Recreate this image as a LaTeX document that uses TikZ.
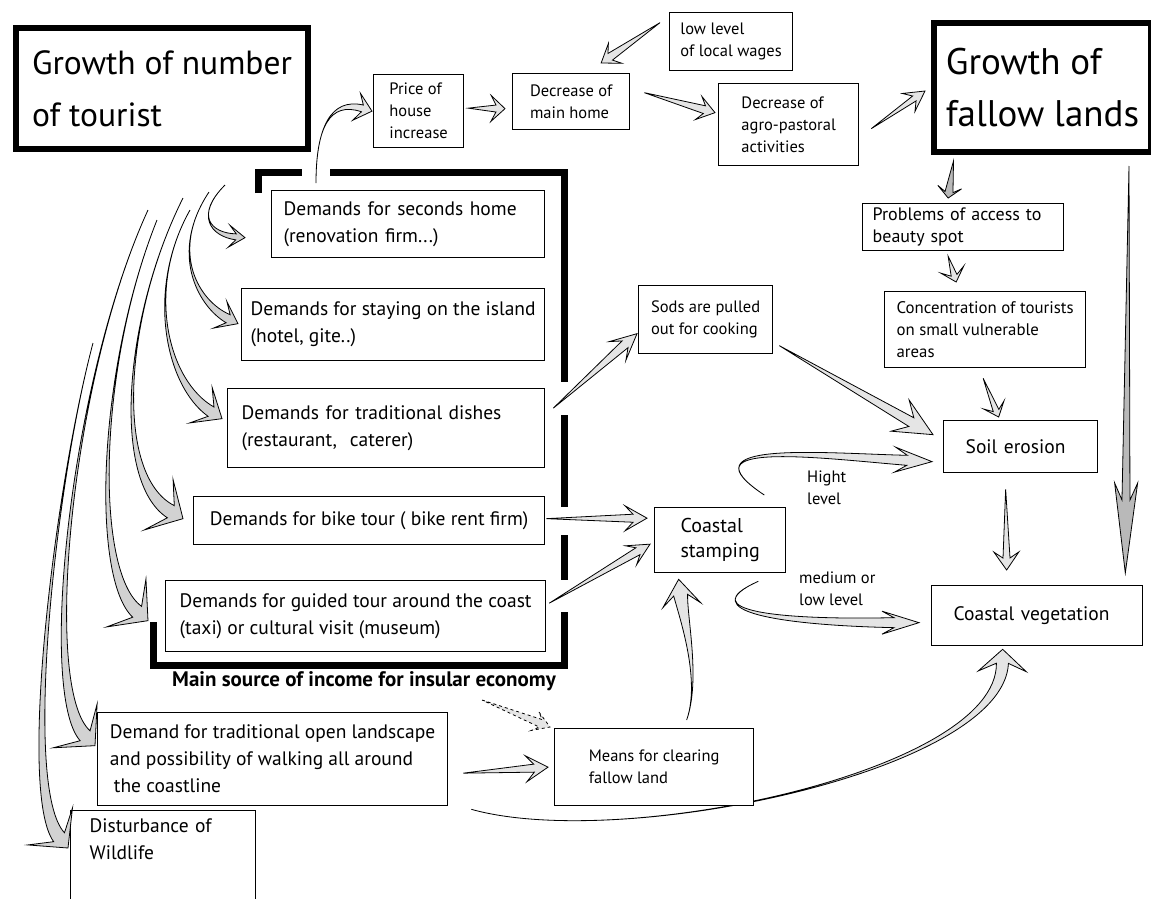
\documentclass[tikz,border=0pt]{standalone}
\usepackage{fontspec}
\setmainfont{PT Sans}
\usetikzlibrary{calc, backgrounds}

\tikzset{
  tap/.style={draw=black, line width=0.8pt, line join=miter},
  sz/.code n args={4}{\def\tw{#1}\def\hl{#2}\def\hs{#3}\def\hw{#4}},
  sz={4}{12}{6}{12},
}

% tapered arrow along a curve: start, tip, first control (from start), second control (from tip)
\newcommand{\taparrow}[5][]{%
  \filldraw[tap,#1] let \p1=#2, \p2=#3, \p3=#4, \p4=#5, \n1={atan2(\y4,\x4)+180} in
    (\p1) .. controls ($(\p1)+(\p3)$) and ($(\p2)+(\p4)+(\n1+90:0.5*\tw pt)$)
    .. ($(\p2)+(\n1:-\hl pt)+(\n1+90:\tw pt)$)
    -- ($(\p2)+(\n1:-\hl pt-\hs pt)+(\n1+90:\hw pt)$)
    -- (\p2)
    -- ($(\p2)+(\n1:-\hl pt-\hs pt)+(\n1-90:\hw pt)$)
    -- ($(\p2)+(\n1:-\hl pt)+(\n1-90:\tw pt)$)
    .. controls ($(\p2)+(\p4)+(\n1-90:0.5*\tw pt)$) and ($(\p1)+(\p3)$) .. (\p1) -- cycle;}

% tapered straight arrow: start, tip
\newcommand{\strarrow}[3][]{%
  \filldraw[tap,#1] let \p1=#2, \p2=#3, \n1={atan2(\y2-\y1,\x2-\x1)} in
    (\p1) -- ($(\p2)+(\n1:-\hl pt)+(\n1+90:\tw pt)$)
    -- ($(\p2)+(\n1:-\hl pt-\hs pt)+(\n1+90:\hw pt)$)
    -- (\p2)
    -- ($(\p2)+(\n1:-\hl pt-\hs pt)+(\n1-90:\hw pt)$)
    -- ($(\p2)+(\n1:-\hl pt)+(\n1-90:\tw pt)$) -- cycle;}

\begin{document}
\begin{tikzpicture}[x=1pt, y=-1pt,
  boxbase/.style={draw, line width=1.3pt, fill=white, anchor=north west,
    align=left, inner ysep=0pt},
  box/.style n args={3}{boxbase, minimum width=#1, minimum height=#2,
    inner xsep=#3, text width=#1-2*#3},
  cbox/.style 2 args={boxbase, minimum width=#1, minimum height=#2, inner xsep=0pt},
  title/.style={line width=6pt},
  smalltxt/.style={font=\fontsize{16.5}{22}\selectfont},
  midtxt/.style={font=\fontsize{19.5}{27}\selectfont},
  lightarr/.style={fill=gray!20},
  midarr/.style={fill=gray!35},
  darkarr/.style={fill=gray!55},
  bracket/.style={line width=7pt}]

\useasboundingbox (0,0) rectangle (1151,898);

% boxes
\node (tourist) [cbox={292}{121}, title, font=\fontsize{33.5}{52}\selectfont] at (13,25) {Growth of number\\of tourist};
\node (fallow) [cbox={217}{129}, title, font=\fontsize{37}{52}\selectfont] at (931,20) {Growth of\\fallow lands};
\node (price) [cbox={90}{73}, smalltxt] at (373,74) {Price of\\house\\increase};
\node (mainhome) [cbox={117}{56}, smalltxt] at (512,73) {Decrease of\\main home};
\node (wages) [cbox={123}{58}, smalltxt] at (669,12) {low level\\of local wages};
\node (agro) [cbox={140}{82}, smalltxt] at (718,83) {Decrease of\\agro-pastoral\\activities};
\node (seconds) [box={273}{67}{12}, midtxt] at (271,190) {Demands for seconds home\\(renovation firm...)};
\node (staying) [cbox={303}{72}, midtxt] at (241,288) {Demands for staying on the island\\(hotel, gite..)};
\node (dishes) [box={317}{79}{14}, midtxt] at (227,388) {Demands for traditional dishes\\(restaurant,\ \ caterer)};
\node (bike) [cbox={351}{48}, midtxt] at (193,496) {Demands for bike tour ( bike rent firm)};
\node (guided) [cbox={380}{71}, midtxt] at (165,580) {Demands for guided tour around the coast\\(taxi) or cultural visit (museum)};
\node (landscape) [cbox={350}{93}, midtxt] at (97,712) {Demand for traditional open landscape\\and possibility of walking all around\\\hspace*{4pt}the coastline};
\node (disturb) [box={185}{0}{19}, midtxt, inner ysep=8pt, text depth=75pt] at (70,810) {Disturbance of\\Wildlife};
\node (means) [cbox={199}{77}, smalltxt] at (554,728) {Means for clearing\\fallow land};
\node (sods) [cbox={134}{68}, smalltxt] at (638,285) {Sods are pulled\\out for cooking};
\node (stamping) [cbox={131}{65}, font=\fontsize{20}{25}\selectfont] at (654,507) {Coastal\\stamping};
\node (problems) [box={201}{47}{10}, font=\fontsize{18}{22}\selectfont] at (862,203) {Problems of access to\\beauty spot};
\node (concentr) [cbox={201}{76}, font=\fontsize{16.8}{22}\selectfont] at (884,291) {Concentration of tourists\\on small vulnerable\\areas};
\node (soil) [box={154}{52}{22}, midtxt] at (943,420) {Soil erosion};
\node (veg) [box={211}{60}{22}, midtxt] at (931,585) {Coastal vegetation};

% labels
\node (hight) [smalltxt, align=left, anchor=north west, inner sep=0pt] at (807,471) {Hight\\level};
\node (medlow) [smalltxt, align=left, anchor=north west, inner sep=0pt] at (799,572) {medium or\\low level};
\node (income) [font=\fontsize{21}{24}\selectfont\bfseries, anchor=base west, inner sep=0pt] at (172,686) {Main source of income for insular economy};

% bracket round the income sector
\draw[bracket] (258,193) |- (302,172);
\draw[bracket] (330,172) -| (564,382);
\draw[bracket] (564,415) -- (564,507);
\draw[bracket] (564,535) -- (564,580);
\draw[bracket] (564,612) |- (153,665) -- (153,622);

% fan of arrows from the tourist box
\taparrow[midarr, sz={3}{9}{7}{11}]{($(seconds.north west)+(-46,-5)$)}{($(seconds.west)+(-26,13.5)$)}{(-30,30)}{(-35,-3)}
\taparrow[midarr, sz={4.5}{11}{9}{15}]{($(seconds.north west)+(-62,2)$)}{($(staying.west)+(-3,-1)$)}{(-40,60)}{(-40,-20)}
\taparrow[midarr, sz={5.5}{13}{12}{21}]{($(seconds.north west)+(-81,20)$)}{($(dishes.west)+(-5,-9.5)$)}{(-45,80)}{(-55,-35)}
\taparrow[midarr, sz={7}{14}{14}{29}]{($(seconds.north west)+(-88,8)$)}{($(bike.west)+(-10,-2)$)}{(-60,120)}{(-70,-40)}
\taparrow[midarr, sz={7}{14}{14}{31}]{($(seconds.north west)+(-114,30)$)}{($(guided.west)+(-17,4.5)$)}{(-60,150)}{(-55,-45)}
\taparrow[midarr, sz={7}{14}{14}{31}]{($(seconds.north west)+(-123,20)$)}{($(landscape.west)+(-2,-13.5)$)}{(-78,170)}{(-55,-55)}
\taparrow[midarr, sz={7}{14}{14}{29}]{($(tourist.south west)+(80,191)$)}{($(disturb.north west)+(-2,38)$)}{(-38,143)}{(-48,-58)}

% upper chain
\taparrow[lightarr, sz={3.5}{10}{6}{14}]{($(seconds.north west)+(45,-7)$)}{($(price.west)+(-1,0)$)}{(0,-55)}{(-42,-12)}
\strarrow[lightarr, sz={3.5}{9}{5}{13}]{($(price.east)+(4,-3)$)}{($(mainhome.west)+(-7,7)$)}
\strarrow[lightarr, sz={4}{11}{6}{12}]{($(wages.west)+(-9,-19)$)}{($(mainhome.north)+(30,-10)$)}
\strarrow[lightarr, sz={4}{11}{6}{12}]{($(mainhome.east)+(14,-9)$)}{($(agro.west)+(-3,-12)$)}
\strarrow[lightarr, sz={3}{13}{7}{11}]{($(agro.east)+(12,4)$)}{($(fallow.west)+(-6,3.5)$)}

% fallow lands side
\strarrow[darkarr, sz={4}{6}{5}{12}]{($(fallow.south)+(-89,6)$)}{($(problems.north)+(-15,-5)$)}
\strarrow[lightarr, sz={3}{7}{6}{12}]{($(problems.south)+(-15,5)$)}{($(concentr.north)+(-29,-9)$)}
\strarrow[lightarr, sz={3}{7}{6}{11}]{($(concentr.south)+(-2,10)$)}{($(soil.north)+(-22,-3)$)}
\strarrow[darkarr, sz={4}{73}{17}{11.5}]{($(fallow.south east)+(-25,11)$)}{($(veg.north east)+(-18,-12)$)}
\strarrow[lightarr, sz={3.5}{12}{6}{12.5}]{($(soil.south)+(-15,16)$)}{($(veg.north)+(-30.5,-15)$)}

% middle
\strarrow[lightarr, sz={4.5}{16}{10}{12.5}]{($(dishes.east)+(8,-20)$)}{($(sods.west)+(-1,14)$)}
\strarrow[lightarr, sz={5}{25}{13}{18}]{($(sods.east)+(6,26)$)}{($(soil.west)+(-10,-12)$)}
\strarrow[lightarr, sz={4}{14}{8}{12.5}]{($(bike.east)+(1,-2)$)}{($(stamping.west)+(-7,-22)$)}
\strarrow[lightarr, sz={4}{14}{8}{11}]{($(guided.east)+(3,-13)$)}{($(stamping.west)+(-4,4)$)}
\taparrow[lightarr, sz={5}{25}{12}{12.5}]{($(stamping.north east)+(-22,-12)$)}{($(soil.west)+(-11,15)$)}{(-83,-55)}{(-112,-6)}
\taparrow[lightarr, sz={5}{25}{12}{11.5}]{($(stamping.south east)+(-28,8)$)}{($(veg.west)+(-12,7)$)}{(-67,30)}{(-139,0)}

% lower part
\taparrow[lightarr, sz={7}{16}{10}{19}]{($(means.north)+(32.5,-8)$)}{($(stamping.south)+(-41.5,6)$)}{(14,-40)}{(5,40)}
\strarrow[lightarr, sz={4}{14}{8}{13}]{($(landscape.east)+(15,14)$)}{($(means.west)+(-6,0)$)}
\strarrow[lightarr, dashed, sz={4}{10}{6}{10}]{($(means.north west)+(-72,-28)$)}{($(means.north west)+(-4,-1)$)}
\begin{scope}[on background layer]
\taparrow[lightarr, sz={6}{14}{8}{24}]{($(landscape.south east)+(23,3)$)}{($(veg.south)+(-34.5,3)$)}{(150,42)}{(-2,122)}
\end{scope}

\end{tikzpicture}
\end{document}
